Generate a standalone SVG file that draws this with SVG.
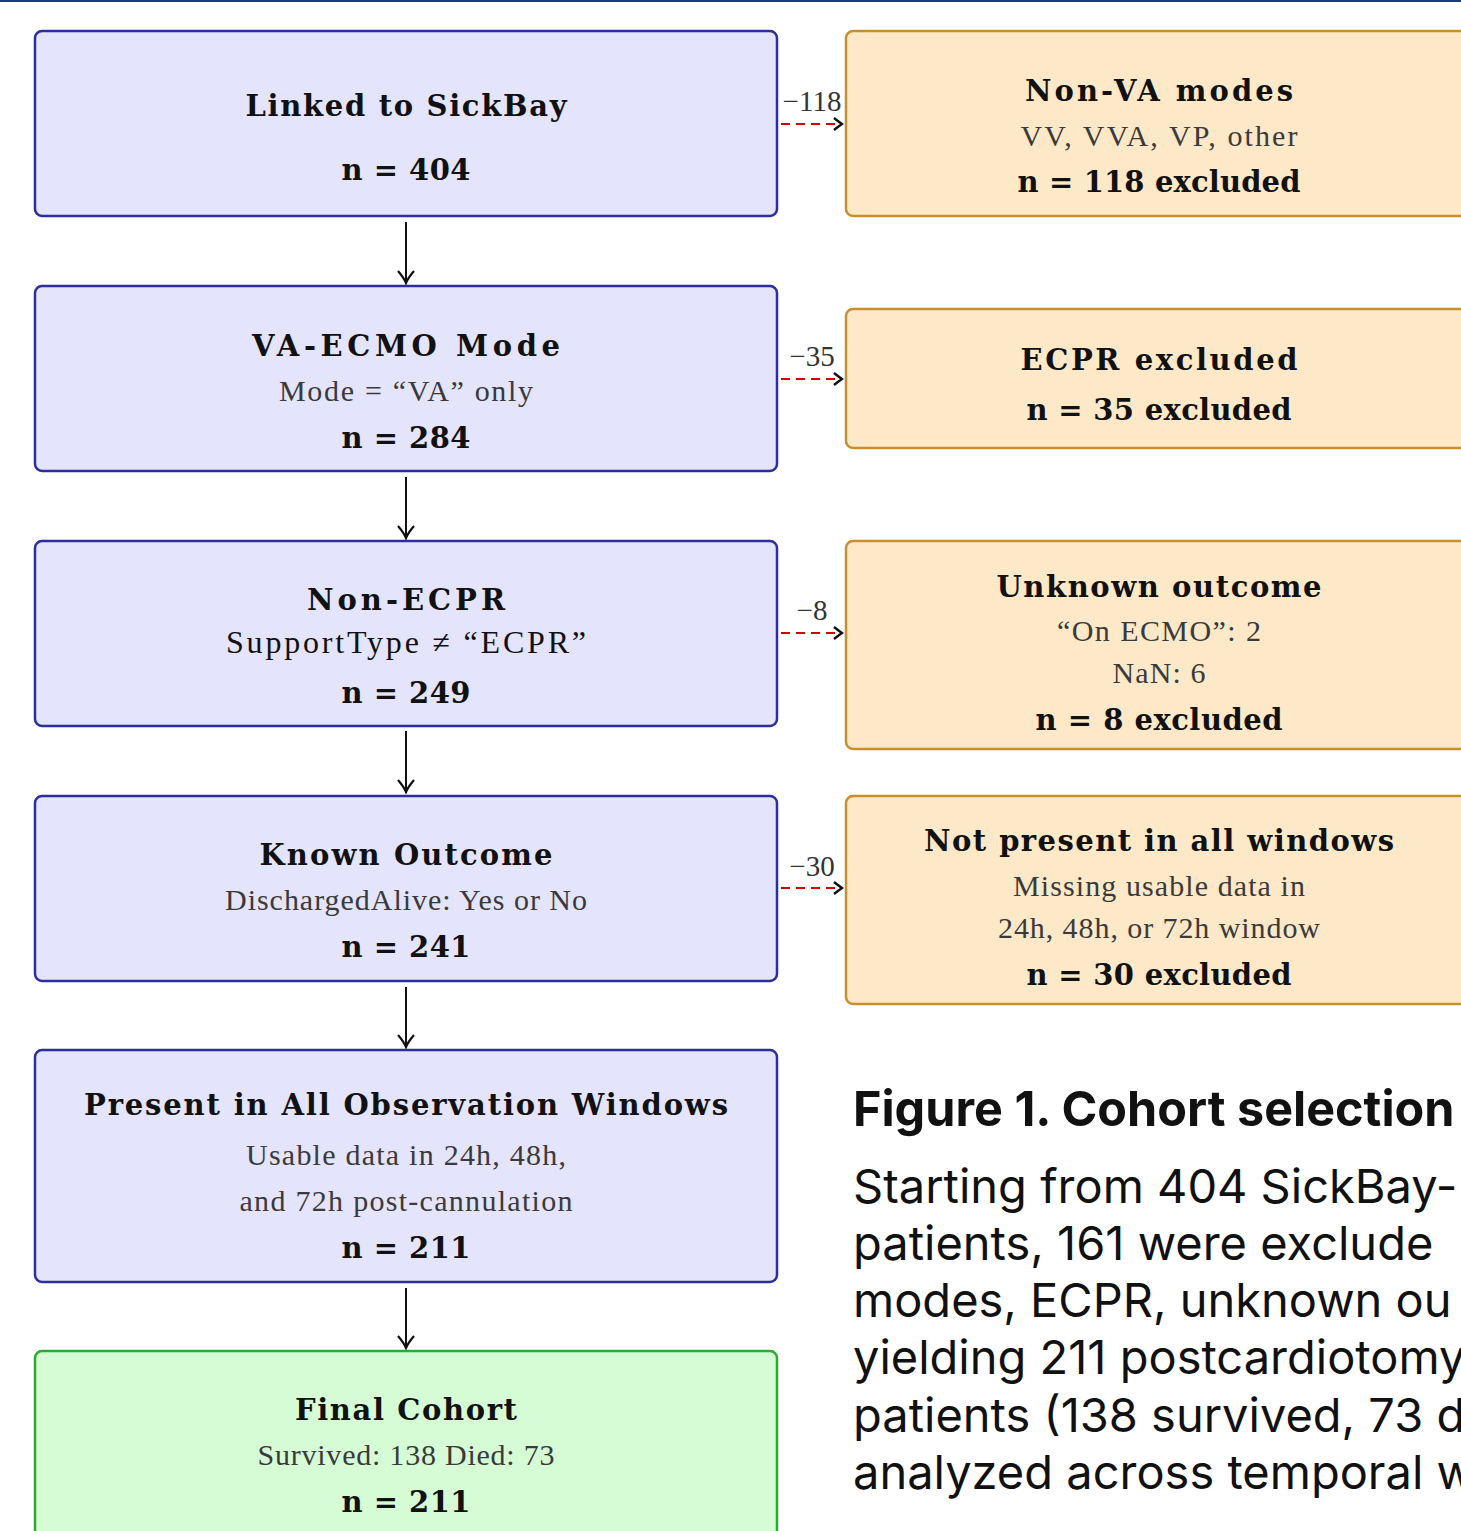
<svg xmlns="http://www.w3.org/2000/svg" width="1461" height="1531" viewBox="0 0 1461 1531">
<defs>
<style>
.bg{fill:#ffffff}
.lb{fill:#e4e4fd;stroke:#2d2d9c;stroke-width:2.5}
.ob{fill:#fde8c7;stroke:#c88f2e;stroke-width:2.5}
.gb{fill:#d6fcd6;stroke:#2eaa2e;stroke-width:2.5}
.t{font-family:"DejaVu Serif","Liberation Serif",serif;font-weight:bold;font-size:29px;fill:#111;text-anchor:middle}
.s{font-family:"Liberation Serif","DejaVu Serif",serif;font-size:30px;fill:#3a3a3a;text-anchor:middle}
.s2{font-family:"Liberation Serif","DejaVu Serif",serif;font-size:32px;fill:#111;text-anchor:middle}
.n{font-family:"DejaVu Serif","Liberation Serif",serif;font-weight:bold;font-size:29px;fill:#111;text-anchor:middle}
.el{font-family:"Liberation Serif","DejaVu Serif",serif;font-size:29px;fill:#333;text-anchor:middle}
.down{stroke:#111;stroke-width:2;fill:none}
.dash{stroke:#d40000;stroke-width:2.2;stroke-dasharray:9 6;fill:none}
.h{font-family:Inter,"Noto Sans",sans-serif;font-weight:bold;font-size:48.5px;fill:#111}
.b{font-family:Inter,"Noto Sans",sans-serif;font-size:47px;fill:#111}
</style>
<marker id="ah" viewBox="-14 -10 16 20" refX="0" refY="0" markerWidth="16" markerHeight="20" markerUnits="userSpaceOnUse" orient="auto">
<path d="M-12,-8 Q-5,-2 0,0 Q-5,2 -12,8" stroke="#111" stroke-width="2.2" fill="none"/>
</marker>
<marker id="ahr" viewBox="-12 -8 14 16" refX="0" refY="0" markerWidth="14" markerHeight="16" markerUnits="userSpaceOnUse" orient="auto">
<path d="M-8,-6 Q-3,-2 0,0 Q-3,2 -8,6" stroke="#111" stroke-width="2.4" fill="none"/>
</marker>
</defs>
<rect class="bg" x="0" y="0" width="1461" height="1531"/>
<rect x="0" y="0" width="1461" height="2" fill="#1b3a78"/>

<g id="connectors">
<line class="down" x1="406" y1="222" x2="406" y2="283" marker-end="url(#ah)"/>
<line class="down" x1="406" y1="477" x2="406" y2="538" marker-end="url(#ah)"/>
<line class="down" x1="406" y1="731" x2="406" y2="792" marker-end="url(#ah)"/>
<line class="down" x1="406" y1="987" x2="406" y2="1047" marker-end="url(#ah)"/>
<line class="down" x1="406" y1="1288" x2="406" y2="1348" marker-end="url(#ah)"/>
<line class="dash" x1="781" y1="124" x2="842" y2="124" marker-end="url(#ahr)"/>
<line class="dash" x1="781" y1="379" x2="842" y2="379" marker-end="url(#ahr)"/>
<line class="dash" x1="781" y1="633" x2="842" y2="633" marker-end="url(#ahr)"/>
<line class="dash" x1="781" y1="888" x2="842" y2="888" marker-end="url(#ahr)"/>
<text class="el" x="812" y="111">−118</text>
<text class="el" x="812" y="366">−35</text>
<text class="el" x="812" y="620">−8</text>
<text class="el" x="812" y="876">−30</text>
</g>

<g id="n1">
<rect class="lb" x="35" y="31" width="742" height="185" rx="7"/>
<text class="t" x="406" y="116" textLength="321">Linked to SickBay</text>
<text class="n" x="406" y="180" textLength="129">n = 404</text>
</g>
<g id="n2">
<rect class="lb" x="35" y="286" width="742" height="185" rx="7"/>
<text class="t" x="406" y="356" textLength="308">VA-ECMO Mode</text>
<text class="s" x="406" y="401" textLength="254">Mode = “VA” only</text>
<text class="n" x="406" y="448" textLength="129">n = 284</text>
</g>
<g id="n3">
<rect class="lb" x="35" y="541" width="742" height="185" rx="7"/>
<text class="t" x="406" y="610" textLength="198">Non-ECPR</text>
<text class="s2" x="406" y="653" textLength="360">SupportType ≠ “ECPR”</text>
<text class="n" x="406" y="703" textLength="129">n = 249</text>
</g>
<g id="n4">
<rect class="lb" x="35" y="796" width="742" height="185" rx="7"/>
<text class="t" x="406" y="865" textLength="293">Known Outcome</text>
<text class="s" x="406" y="910" textLength="362">DischargedAlive: Yes or No</text>
<text class="n" x="406" y="957" textLength="129">n = 241</text>
</g>
<g id="n5">
<rect class="lb" x="35" y="1050" width="742" height="232" rx="7"/>
<text class="t" x="406" y="1115" textLength="644">Present in All Observation Windows</text>
<text class="s" x="406" y="1165" textLength="320">Usable data in 24h, 48h,</text>
<text class="s" x="406" y="1211" textLength="333">and 72h post-cannulation</text>
<text class="n" x="406" y="1258" textLength="129">n = 211</text>
</g>
<g id="n6">
<rect class="gb" x="35" y="1351" width="742" height="200" rx="7"/>
<text class="t" x="406" y="1420" textLength="222">Final Cohort</text>
<text class="s" x="406" y="1465" textLength="297">Survived: 138 Died: 73</text>
<text class="n" x="406" y="1512" textLength="129">n = 211</text>
</g>

<g id="r1">
<rect class="ob" x="846" y="31" width="630" height="185" rx="7"/>
<text class="t" x="1159" y="101" textLength="268">Non-VA modes</text>
<text class="s" x="1159" y="146" textLength="277">VV, VVA, VP, other</text>
<text class="n" x="1159" y="192" textLength="283">n = 118 excluded</text>
</g>
<g id="r2">
<rect class="ob" x="846" y="309" width="630" height="139" rx="7"/>
<text class="t" x="1159" y="370" textLength="277">ECPR excluded</text>
<text class="n" x="1159" y="420" textLength="265">n = 35 excluded</text>
</g>
<g id="r3">
<rect class="ob" x="846" y="541" width="630" height="208" rx="7"/>
<text class="t" x="1159" y="597" textLength="325">Unknown outcome</text>
<text class="s" x="1159" y="641" textLength="204">“On ECMO”: 2</text>
<text class="s" x="1159" y="683" textLength="93">NaN: 6</text>
<text class="n" x="1159" y="730" textLength="247">n = 8 excluded</text>
</g>
<g id="r4">
<rect class="ob" x="846" y="796" width="630" height="208" rx="7"/>
<text class="t" x="1159" y="851" textLength="470">Not present in all windows</text>
<text class="s" x="1159" y="896" textLength="292">Missing usable data in</text>
<text class="s" x="1159" y="938" textLength="322">24h, 48h, or 72h window</text>
<text class="n" x="1159" y="985" textLength="265">n = 30 excluded</text>
</g>

<g id="caption">
<text class="h" x="853" y="1126">Figure 1. Cohort selection</text>
<text class="b" x="853" y="1203">Starting from 404 SickBay-</text>
<text class="b" x="853" y="1260">patients, 161 were exclude</text>
<text class="b" x="853" y="1317">modes, ECPR, unknown ou</text>
<text class="b" x="853" y="1374">yielding 211 postcardiotomy</text>
<text class="b" x="853" y="1432">patients (138 survived, 73 d</text>
<text class="b" x="853" y="1489">analyzed across temporal w</text>
</g>
</svg>
